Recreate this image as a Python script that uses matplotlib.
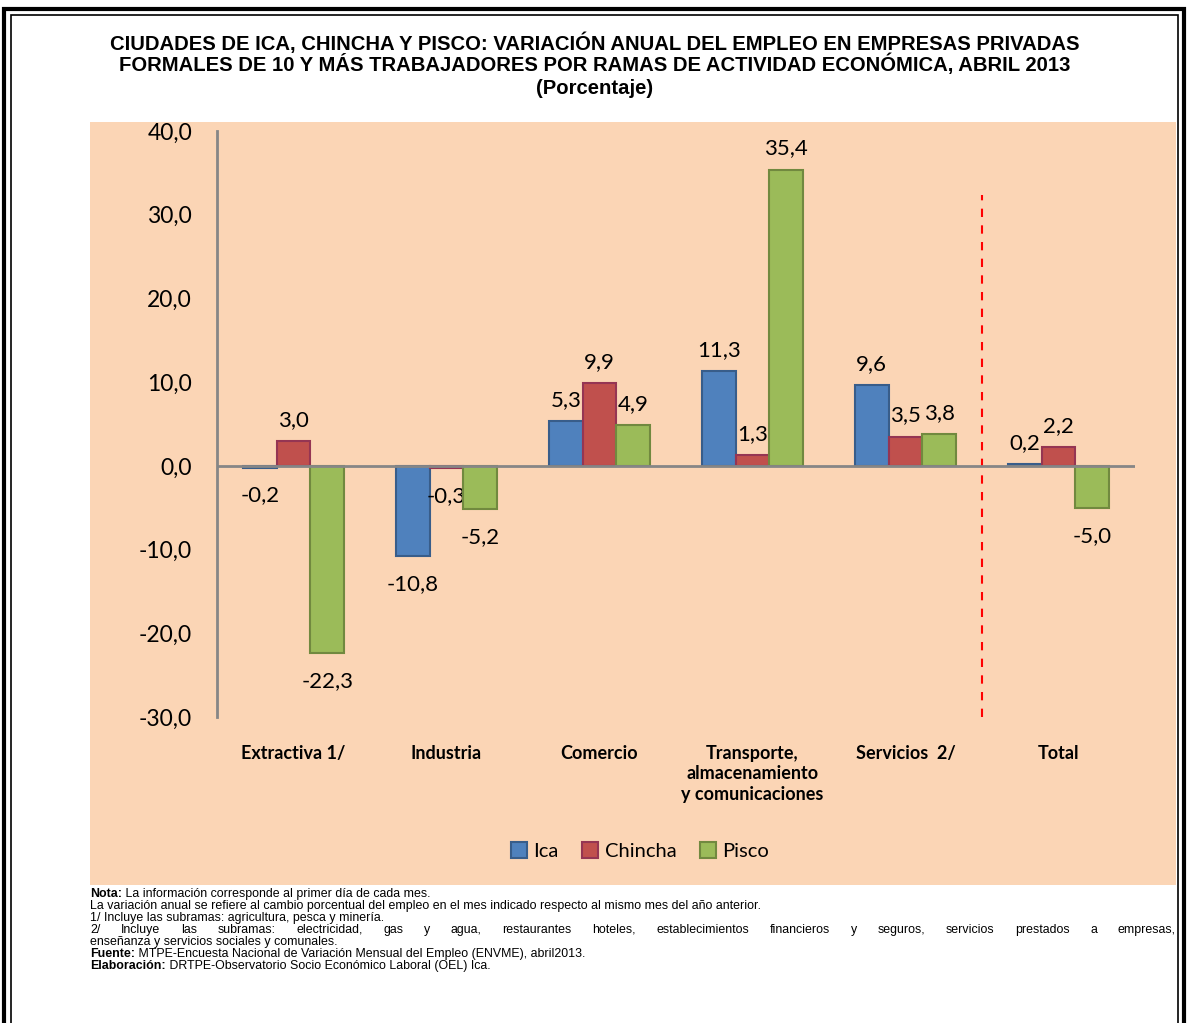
import matplotlib
matplotlib.use("Agg")
import matplotlib.pyplot as plt
import numpy as np
from matplotlib.patches import Rectangle

categories = ["Extractiva 1/", "Industria", "Comercio",
              "Transporte,\nalmacenamiento\ny comunicaciones", "Servicios  2/", "Total"]
ica = [-0.2, -10.8, 5.3, 11.3, 9.6, 0.2]
chincha = [3.0, -0.3, 9.9, 1.3, 3.5, 2.2]
pisco = [-22.3, -5.2, 4.9, 35.4, 3.8, -5.0]
series_names = ["Ica", "Chincha", "Pisco"]
yticks = [-30, -20, -10, 0, 10, 20, 30, 40]

W, H = 1189, 1023
fig = plt.figure(figsize=(W/100, H/100), dpi=100)
fig.patch.set_facecolor("white")

def fx(px): return px / W
def fy(py): return 1 - py / H

# peach background
fig.patches.append(Rectangle((fx(90), fy(885)), fx(1176) - fx(90), fy(122) - fy(885),
                             transform=fig.transFigure, facecolor="#FBD5B5", edgecolor="none", zorder=0))
# double border
fig.patches.append(Rectangle((fx(4), fy(1030)), fx(1184) - fx(4), fy(9) - fy(1030),
                             transform=fig.transFigure, facecolor="none", edgecolor="black", lw=3, zorder=1))
fig.patches.append(Rectangle((fx(11), fy(1030)), fx(1178) - fx(11), fy(15) - fy(1030),
                             transform=fig.transFigure, facecolor="none", edgecolor="black", lw=1.2, zorder=1))

title_font = ["Liberation Sans", "DejaVu Sans"]
tfs = 14.6
fig.text(0.5, fy(43), "CIUDADES DE ICA, CHINCHA Y PISCO: VARIACIÓN ANUAL DEL EMPLEO EN EMPRESAS PRIVADAS",
         ha="center", va="center", fontsize=tfs, fontweight="bold", family=title_font)
fig.text(0.5, fy(64), "FORMALES DE 10 Y MÁS TRABAJADORES POR RAMAS DE ACTIVIDAD ECONÓMICA, ABRIL 2013",
         ha="center", va="center", fontsize=tfs, fontweight="bold", family=title_font)
fig.text(0.5, fy(88), "(Porcentaje)", ha="center", va="center", fontsize=tfs, fontweight="bold", family=title_font)

ax = fig.add_axes([fx(217), fy(717), fx(1135) - fx(217), fy(131) - fy(717)])
ax.set_zorder(3)
ax.set_facecolor("none")
x = np.arange(len(categories))
bw = 0.22
colors = ["#4F81BD", "#C0504D", "#9BBB59"]
edges = ["#385D8A", "#953553", "#71893F"]
lab_font = ["Lato", "DejaVu Sans"]
for i, (vals, name) in enumerate(zip([ica, chincha, pisco], series_names)):
    pos = x + (i - 1) * bw
    ax.bar(pos, vals, bw, color=colors[i], edgecolor=edges[i], linewidth=1.5, label=name, zorder=3)
    for p, v in zip(pos, vals):
        lbl = f"{v:.1f}".replace(".", ",")
        if v >= 0:
            ax.annotate(lbl, (p, v), xytext=(0, 8), textcoords="offset points", ha="center", va="bottom",
                        fontsize=16, family=lab_font)
        else:
            ax.annotate(lbl, (p, v), xytext=(0, -13), textcoords="offset points", ha="center", va="top",
                        fontsize=16, family=lab_font)

ax.set_xlim(-0.5, len(categories) - 0.5)
ax.set_ylim(-30, 40)
ax.axhline(0, color="#868686", lw=2, zorder=4)
ax.axvline(4.5, ymin=0, ymax=(32.4 + 30) / 70, color="red", lw=1.5, ls=(0, (4, 4)), zorder=2)
for s in ["top", "right", "bottom"]:
    ax.spines[s].set_visible(False)
ax.spines["left"].set_color("#868686")
ax.spines["left"].set_linewidth(2)
ax.set_yticks(yticks)
ax.set_yticklabels([f"{t:.1f}".replace(".", ",") for t in yticks], fontsize=16.5, family=lab_font)
ax.tick_params(axis="y", length=0, pad=18)
ax.set_xticks(x)
ax.set_xticklabels(categories, fontsize=13, fontweight="bold", family=lab_font, linespacing=1.25)
ax.tick_params(axis="x", length=0, pad=20)

leg = fig.legend(loc="center", bbox_to_anchor=(fx(640), fy(851)), ncol=3, frameon=False,
                 prop={"family": lab_font, "size": 14.5}, handlelength=0.8, handleheight=0.8,
                 handletextpad=0.3, columnspacing=1.2)

notes_font = ["Liberation Sans", "DejaVu Sans"]
ny = 897
fs = 8.9
lines = [
    ("Nota:", " La información corresponde al primer día de cada mes.", False),
    ("", "La variación anual se refiere al cambio porcentual del empleo en el mes indicado respecto al mismo mes del año anterior.", False),
    ("", "1/ Incluye las subramas: agricultura, pesca y minería.", False),
    ("", "2/ Incluye las subramas: electricidad, gas y agua, restaurantes hoteles, establecimientos financieros y seguros, servicios prestados a empresas,", True),
    ("", "enseñanza y servicios sociales y comunales.", False),
    ("Fuente:", " MTPE-Encuesta Nacional de Variación Mensual del Empleo (ENVME), abril2013.", False),
    ("Elaboración:", " DRTPE-Observatorio Socio Económico Laboral (OEL) Ica.", False),
]
renderer = fig.canvas.get_renderer()
for k, (b, rest, justify) in enumerate(lines):
    yy = fy(ny + k * 12)
    xx = fx(90)
    if b:
        t = fig.text(xx, yy, b, fontsize=fs, fontweight="bold", family=notes_font, va="baseline", ha="left")
        bb = t.get_window_extent(renderer=renderer)
        xx = bb.x1 / W
    if justify:
        words = rest.split(" ")
        texts = [fig.text(0, yy, w, fontsize=fs, family=notes_font, va="baseline", ha="left") for w in words]
        widths = [t.get_window_extent(renderer=renderer).width for t in texts]
        total = sum(widths)
        gap = ((1176 - 90) - total) / (len(words) - 1)
        cur = 90
        for t, wdt in zip(texts, widths):
            t.set_x(fx(cur))
            cur += wdt + gap
    else:
        fig.text(xx, yy, rest, fontsize=fs, family=notes_font, va="baseline", ha="left")

fig.savefig("out.png", dpi=100)
